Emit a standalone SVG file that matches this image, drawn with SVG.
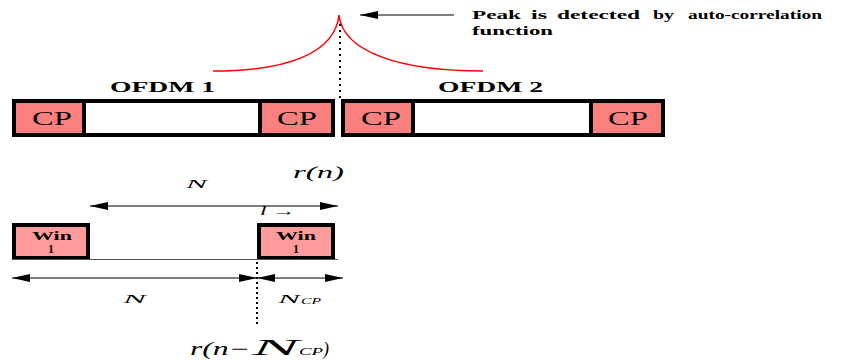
<svg xmlns="http://www.w3.org/2000/svg" width="857" height="362" viewBox="0 0 857 362">
<defs>
<marker id="ah" markerUnits="userSpaceOnUse" markerWidth="20" markerHeight="10" refX="18" refY="4" orient="auto-start-reverse">
<path d="M0,0 L18,4 L0,8 Z" fill="#000"/>
</marker>
<style>
.cp{fill:#fa8080;stroke:#000;stroke-width:4}
.body{fill:#fff;stroke:#000;stroke-width:4}
.win{fill:#ff9b9b;stroke:#000;stroke-width:4}
.cpt{font-family:"Liberation Serif",serif;font-size:18px;fill:#000}
.lab{font-family:"Liberation Serif",serif;font-weight:bold;font-size:14px;fill:#000}
.wt{font-family:"Liberation Serif",serif;font-weight:bold;font-size:12px;fill:#000}
.it{font-family:"Liberation Serif",serif;font-style:italic;fill:#000}
.pk{font-family:"Liberation Serif",serif;font-weight:bold;font-size:13px;fill:#000}
.arr{stroke:#000;stroke-width:1;fill:none}
</style>
</defs>
<g id="ofdm1">
<rect class="body" x="84" y="101" width="249" height="34"/>
<rect class="cp" x="14" y="101" width="70" height="34"/>
<rect class="cp" x="260" y="101" width="73" height="34"/>
<text class="cpt" x="32" y="125" textLength="40" lengthAdjust="spacingAndGlyphs">CP</text>
<text class="cpt" x="277" y="125" textLength="40" lengthAdjust="spacingAndGlyphs">CP</text>
<text class="lab" x="110" y="92" textLength="105" lengthAdjust="spacingAndGlyphs">OFDM 1</text>
</g>
<g id="ofdm2">
<rect class="body" x="413" y="101" width="250" height="34"/>
<rect class="cp" x="343" y="101" width="70" height="34"/>
<rect class="cp" x="591" y="101" width="72" height="34"/>
<text class="cpt" x="361" y="125" textLength="40" lengthAdjust="spacingAndGlyphs">CP</text>
<text class="cpt" x="608" y="125" textLength="40" lengthAdjust="spacingAndGlyphs">CP</text>
<text class="lab" x="438" y="92" textLength="105" lengthAdjust="spacingAndGlyphs">OFDM 2</text>
</g>
<g id="peak">
<path d="M213,71 C290,71 335,52 339,15 C343,52 400,71 483,71" fill="none" stroke="#f00" stroke-width="1.5"/>
<text class="pk" x="472" y="19" textLength="49" lengthAdjust="spacingAndGlyphs">Peak</text>
<text class="pk" x="531" y="19" textLength="16" lengthAdjust="spacingAndGlyphs">is</text>
<text class="pk" x="557" y="19" textLength="83" lengthAdjust="spacingAndGlyphs">detected</text>
<text class="pk" x="653" y="19" textLength="21" lengthAdjust="spacingAndGlyphs">by</text>
<text class="pk" x="688" y="19" textLength="134" lengthAdjust="spacingAndGlyphs">auto-correlation</text>
<text class="pk" x="472" y="35" textLength="81" lengthAdjust="spacingAndGlyphs">function</text>
</g>
<g id="win-left">
<rect class="win" x="14" y="225" width="74" height="33"/>
<text class="wt" x="32" y="240" textLength="40" lengthAdjust="spacingAndGlyphs">Win</text>
<text class="wt" x="51" y="253" text-anchor="middle">1</text>
</g>
<g id="win-right">
<rect class="win" x="259" y="225" width="74" height="33"/>
<text class="wt" x="276" y="240" textLength="40" lengthAdjust="spacingAndGlyphs">Win</text>
<text class="wt" x="296" y="253" text-anchor="middle">1</text>
</g>
<g id="connectors">
<line x1="454" y1="15" x2="360" y2="15" class="arr" marker-end="url(#ah)"/>
<line x1="340" y1="24" x2="340" y2="99" stroke="#000" stroke-width="2" stroke-dasharray="2,4"/>
<line x1="90" y1="206" x2="338" y2="206" class="arr" marker-start="url(#ah)" marker-end="url(#ah)"/>
<line x1="12" y1="259.5" x2="338" y2="259.5" stroke="#555" stroke-width="1.2"/>
<line x1="12" y1="278" x2="257" y2="278" class="arr" marker-start="url(#ah)" marker-end="url(#ah)"/>
<line x1="257" y1="278" x2="343" y2="278" class="arr" marker-start="url(#ah)" marker-end="url(#ah)"/>
<line x1="257" y1="262" x2="257" y2="324" stroke="#000" stroke-width="2" stroke-dasharray="2,3"/>
</g>
<g id="labels">
<text class="it" x="293" y="178" font-size="17" textLength="51" lengthAdjust="spacingAndGlyphs">r(n)</text>
<text class="it" x="186" y="188" font-size="13" textLength="21" lengthAdjust="spacingAndGlyphs">N</text>
<text class="it" x="260" y="215" font-size="12" textLength="36" lengthAdjust="spacingAndGlyphs">l →</text>
<text class="it" x="123" y="303" font-size="13" textLength="23" lengthAdjust="spacingAndGlyphs">N</text>
<text class="it" x="278" y="303" font-size="13" textLength="22" lengthAdjust="spacingAndGlyphs">N</text>
<text class="it" x="301" y="304" font-size="8" textLength="20" lengthAdjust="spacingAndGlyphs">CP</text>
<text class="it" x="190" y="355" font-size="18" textLength="60" lengthAdjust="spacingAndGlyphs">r(n−</text>
<text class="it" x="252" y="355" font-size="24" textLength="47" lengthAdjust="spacingAndGlyphs">N</text>
<text class="it" x="299" y="355" font-size="11" textLength="24" lengthAdjust="spacingAndGlyphs">CP</text>
<text class="it" x="323" y="355" font-size="18">)</text>
</g>
</svg>
